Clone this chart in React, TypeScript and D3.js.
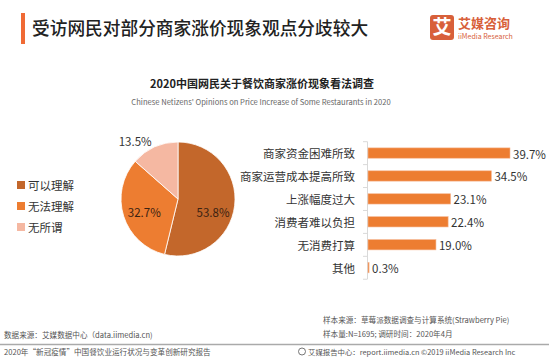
import React from "react";
import * as d3 from "d3";

const pieLabels = ["可以理解", "无法理解", "无所谓"];
const pieValues = [53.8, 32.7, 13.5];
const pieColors = ["#C3672B", "#ED7D31", "#F5B8A2"];

const barCategories = ["商家资金困难所致", "商家运营成本提高所致", "上涨幅度过大", "消费者难以负担", "无消费打算", "其他"];
const barValues = [39.7, 34.5, 23.1, 22.4, 19.0, 0.3];

const FONT = "'Noto Sans CJK SC', 'Noto Sans', sans-serif";

export default function App() {
  const W = 549, H = 357;
  const cx = 178, cy = 199, r = 57;
  const pie = d3.pie<number>().value((d) => d).sort(null);
  const arcs = pie(pieValues);
  const arc = d3.arc<d3.PieArcDatum<number>>().innerRadius(0).outerRadius(r);
  const labelArc = d3.arc<d3.PieArcDatum<number>>().innerRadius(r * 0.62).outerRadius(r * 0.62);
  const outArc = d3.arc<d3.PieArcDatum<number>>().innerRadius(r + 7).outerRadius(r + 7);

  const y = d3.scaleBand<string>().domain(barCategories).range([141.7, 279]).paddingInner(0.55).paddingOuter(0.27);
  const x = d3.scaleLinear().domain([0, 39.7]).range([368, 510]);
  const bounds = d3.range(barCategories.length + 1).map((i) => 141.7 + i * y.step());

  return (
    <svg width={W} height={H} style={{ position: "absolute", left: 0, top: 0, fontFamily: FONT }}>
      <rect width={W} height={H} fill="#fff" />
      {/* title */}
      <rect x={21} y={13} width={4} height={31} fill="#F06A35" />
      <text x={32} y={35} fontSize={17.7} fill="#222" fontWeight={500}>受访网民对部分商家涨价现象观点分歧较大</text>
      {/* logo */}
      <rect x={430} y={15} width={24} height={25} rx={3} fill="#D8603A" />
      <text x={442} y={34} fontSize={19} fill="#fff" textAnchor="middle" fontWeight={700}>艾</text>
      <text x={458} y={28} fontSize={13} fill="#D8603A" fontWeight={700}>艾媒咨询</text>
      <text x={458} y={39} fontSize={7} fill="#D8603A">iiMedia Research</text>

      {/* subtitle */}
      <text x={262} y={88} fontSize={11} fontWeight={700} fill="#222" textAnchor="middle">2020中国网民关于餐饮商家涨价现象看法调查</text>
      <text x={261} y={104.5} fontSize={7.6} fill="#666" textAnchor="middle">Chinese Netizens' Opinions on Price Increase of Some Restaurants in 2020</text>

      {/* pie */}
      <g transform={`translate(${cx},${cy})`}>
        {arcs.map((a, i) => (
          <path key={i} d={arc(a) || ""} fill={pieColors[i]} stroke="#fff" strokeWidth={0.8} />
        ))}
        {arcs.map((a, i) => {
          if (i === 2) {
            const [lx, ly] = outArc.centroid(a);
            return (
              <text key={i} x={lx} y={ly} fontSize={11.5} fill="#333" textAnchor="end" dominantBaseline="central">
                {pieValues[i].toFixed(1)}%
              </text>
            );
          }
          const [lx, ly] = labelArc.centroid(a);
          return (
            <text key={i} x={lx} y={i === 0 ? ly + 9 : ly + 2} fontSize={11.5} fill="#3a2212" textAnchor="middle" dominantBaseline="central">
              {pieValues[i].toFixed(1)}%
            </text>
          );
        })}
      </g>
      {/* legend */}
      {pieLabels.map((l, i) => (
        <g key={l} transform={`translate(17,${185 + i * 21})`}>
          <rect x={0} y={-4} width={8} height={8} fill={pieColors[i]} />
          <text x={11} y={0} fontSize={11.5} fill="#333" dominantBaseline="central">{l}</text>
        </g>
      ))}

      {/* bars */}
      <line x1={367.5} x2={367.5} y1={141.7} y2={279} stroke="#d9d9d9" strokeWidth={1} />
      {bounds.map((b, i) => (
        <line key={i} x1={363} x2={367.5} y1={b} y2={b} stroke="#d9d9d9" strokeWidth={1} />
      ))}
      {barCategories.map((c, i) => (
        <g key={c}>
          <rect x={x(0)} y={y(c)!} width={Math.max(x(barValues[i]) - x(0), 0.8)} height={y.bandwidth()} fill="#ED7D31" stroke="#F6B894" strokeWidth={0.6} />
          <text x={355} y={y(c)! + y.bandwidth() / 2} fontSize={11.5} fill="#333" textAnchor="end" dominantBaseline="central">{c}</text>
          <text x={x(barValues[i]) + 3} y={y(c)! + y.bandwidth() / 2 + 0.5} fontSize={11.5} fill="#333" dominantBaseline="central">{barValues[i].toFixed(1)}%</text>
        </g>
      ))}

      {/* footer */}
      <text x={323} y={323} fontSize={7.6} fill="#555">样本来源：草莓派数据调查与计算系统(Strawberry Pie)</text>
      <text x={323} y={337} fontSize={7.6} fill="#555">样本量:N=1695; 调研时间：2020年4月</text>
      <text x={4} y={338} fontSize={7.6} fill="#555">数据来源：艾媒数据中心（data.iimedia.cn)</text>
      <line x1={0} x2={W} y1={344.5} y2={344.5} stroke="#aaa" strokeWidth={1.5} />
      <text x={4} y={354.5} fontSize={7.6} fill="#555">2020年“新冠疫情”中国餐饮业运行状况与变革创新研究报告</text>
      <circle cx={302} cy={351.5} r={3.5} fill="none" stroke="#666" strokeWidth={0.9} />
      <text x={308} y={354.5} fontSize={7.4} fill="#555">艾媒报告中心：report.iimedia.cn  ©2019  iiMedia Research  Inc</text>
    </svg>
  );
}
